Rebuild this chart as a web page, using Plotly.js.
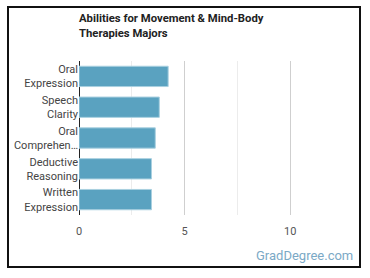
<!DOCTYPE html>
<html>
<head>
<meta charset="utf-8">
<script src="https://cdn.plot.ly/plotly-3.0.1.min.js"></script>
<style>
  html, body { margin: 0; padding: 0; background: #fff; }
  #wrap { position: relative; width: 370px; height: 278px; }
  #chart { width: 370px; height: 278px; }
  #frame {
    position: absolute; left: 7px; top: 6px; width: 354px; height: 262px;
    box-sizing: border-box; border: 2px solid #111; pointer-events: none;
  }
</style>
</head>
<body>
<div id="wrap">
  <div id="chart"></div>
  <div id="frame"></div>
</div>
<script>
// Ability categories (top to bottom) and their importance scores
const abilities = [
  "Oral<br>Expression",
  "Speech<br>Clarity",
  "Oral<br>Comprehen…",
  "Deductive<br>Reasoning",
  "Written<br>Expression"
];
const scores = [4.22, 3.8, 3.61, 3.43, 3.43];
const xTickValues = [0, 5, 10];
const xTickLabels = ["0", "5", "10"];

const trace = {
  type: "bar",
  orientation: "h",
  y: abilities,
  x: scores,
  marker: { color: "#5aa2c0", line: { color: "#a9d0e0", width: 1 } },
  hoverinfo: "skip"
};

const layout = {
  width: 370,
  height: 278,
  margin: { l: 79, r: 29, t: 61, b: 63 },
  paper_bgcolor: "#fff",
  plot_bgcolor: "#fff",
  showlegend: false,
  bargap: 0.34,
  font: { family: "Roboto, 'Open Sans', sans-serif", color: "#444" },
  title: {
    text: "<b>Abilities for Movement &amp; Mind-Body<br>Therapies Majors</b>",
    x: 79 / 370, xanchor: "left", xref: "container",
    y: 1 - 22 / 278, yanchor: "top", yref: "container",
    font: { family: "Roboto, sans-serif", size: 11.3, color: "#222" }
  },
  xaxis: {
    range: [0, 12.4],
    tickvals: xTickValues,
    ticktext: xTickLabels,
    showgrid: true,
    gridcolor: "#cfcfcf",
    gridwidth: 1,
    minor: { dtick: 2.5, showgrid: true, gridcolor: "#ececec", gridwidth: 1 },
    zeroline: true,
    zerolinecolor: "#222",
    zerolinewidth: 1,
    showline: false,
    ticks: "outside",
    ticklen: 6,
    tickcolor: "rgba(0,0,0,0)",
    tickfont: { size: 11, color: "#555" },
    fixedrange: true
  },
  yaxis: {
    autorange: "reversed",
    showgrid: false,
    zeroline: false,
    showline: false,
    ticks: "",
    tickfont: { size: 11, color: "#444" },
    fixedrange: true
  },
  annotations: [{
    text: "GradDegree.com",
    xref: "paper", yref: "paper",
    x: (355 - 79) / 262, xanchor: "right",
    y: (215 - 255) / 154, yanchor: "middle",
    showarrow: false,
    font: { family: "Roboto, sans-serif", size: 13, color: "#7ba9c6" }
  }]
};

Plotly.newPlot("chart", [trace], layout, { displayModeBar: false, staticPlot: true });
</script>
</body>
</html>
